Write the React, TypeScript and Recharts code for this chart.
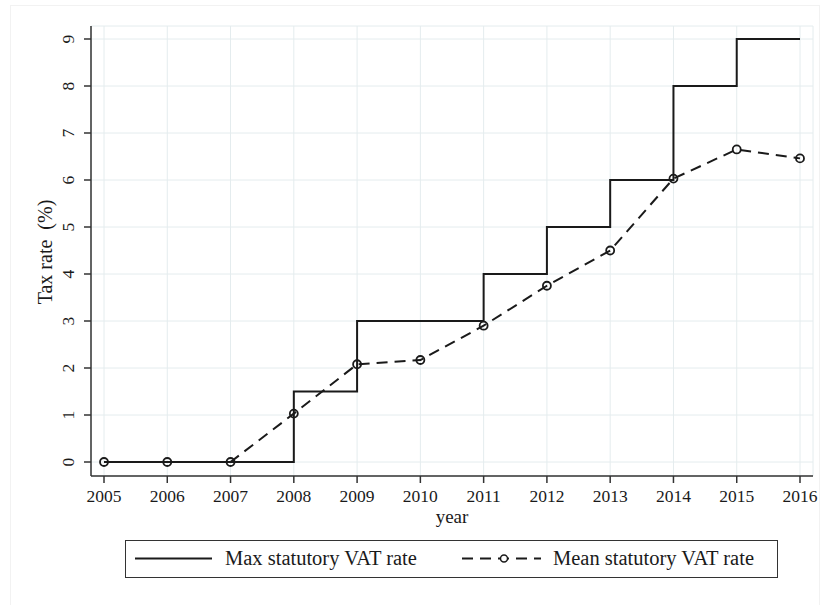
import React from "react";
import {
  LineChart, Line, XAxis, YAxis, CartesianGrid,
} from "recharts";

const years = [2005, 2006, 2007, 2008, 2009, 2010, 2011, 2012, 2013, 2014, 2015, 2016];
const maxRate = [0, 0, 0, 1.5, 3, 3, 4, 5, 6, 8, 9, 9];
const meanRate = [0, 0, 0, 1.03, 2.08, 2.17, 2.9, 3.75, 4.5, 6.03, 6.65, 6.46];
const yTicks = [0, 1, 2, 3, 4, 5, 6, 7, 8, 9];

const data = years.map((year, i) => ({
  year,
  max: maxRate[i],
  mean: meanRate[i],
}));

const FONT = '"Liberation Serif", "Times New Roman", serif';
const INK = "#1a1a1a";

function YTick({ x, y, payload }: any) {
  const cx = x - 14;
  return (
    <text
      x={cx}
      y={y}
      transform={`rotate(-90, ${cx}, ${y})`}
      textAnchor="middle"
      dominantBaseline="central"
      fill={INK}
      fontSize={17.5}
      fontFamily={FONT}
    >
      {payload.value}
    </text>
  );
}

function YLabel({ viewBox }: any) {
  const cx = viewBox.x + 4;
  const cy = viewBox.y + viewBox.height / 2 + 1;
  return (
    <text
      x={cx}
      y={cy}
      transform={`rotate(-90, ${cx}, ${cy})`}
      textAnchor="middle"
      dominantBaseline="central"
      fill={INK}
      fontSize={20}
      fontFamily={FONT}
    >
      {"Tax rate\u00a0 (%)"}
    </text>
  );
}

// legend drawn as a plain box under the chart, like the Stata one
function LegendBox() {
  return (
    <div
      style={{
        position: "absolute",
        left: 125,
        top: 540,
        boxSizing: "border-box",
        width: 653,
        height: 38,
        border: "1.5px solid #333",
        background: "#fff",
        fontFamily: FONT,
        fontSize: 20.5,
        color: INK,
      }}
    >
      <svg width={653} height={38} style={{ position: "absolute", left: -1.5, top: -1.5 }}>
        <line x1={10} x2={87} y1={18.5} y2={18.5} stroke={INK} strokeWidth={2} />
        <line x1={337} x2={416} y1={18.5} y2={18.5} stroke={INK} strokeWidth={2} strokeDasharray="11 7" />
        <circle cx={379} cy={18.5} r={3.5} fill="#fff" stroke={INK} strokeWidth={1.5} />
      </svg>
      <span style={{ position: "absolute", left: 99, top: 5, lineHeight: "24px" }}>
        Max statutory VAT rate
      </span>
      <span style={{ position: "absolute", left: 427, top: 5, lineHeight: "24px" }}>
        Mean statutory VAT rate
      </span>
    </div>
  );
}

export default function App() {
  return (
    <div style={{ position: "absolute", left: 0, top: 0, width: 828, height: 605, background: "#fff", overflow: "hidden" }}>
      <div
        style={{
          position: "absolute",
          left: 10,
          top: 5,
          width: 808,
          height: 610,
          border: "1px solid #f2f2f2",
        }}
      />
      <LineChart
        width={828}
        height={605}
        data={data}
        margin={{ top: 26, right: 15, left: 41, bottom: 99 }}
      >
        <CartesianGrid stroke="#e4ecee" strokeWidth={1} />
        <XAxis
          dataKey="year"
          type="number"
          domain={[2005, 2016]}
          ticks={years}
          interval={0}
          padding={{ left: 13, right: 13 }}
          height={30}
          tickSize={7}
          tickMargin={7}
          stroke="#333"
          strokeWidth={1.5}
          tick={{ fill: INK, fontSize: 17.5, fontFamily: FONT }}
          label={{
            value: "year",
            position: "insideBottom",
            offset: -17,
            fill: INK,
            fontSize: 19,
            fontFamily: FONT,
          }}
        />
        <YAxis
          type="number"
          domain={[0, 9]}
          ticks={yTicks}
          interval={0}
          width={50}
          padding={{ top: 13, bottom: 14 }}
          tickSize={7}
          stroke="#333"
          strokeWidth={1.5}
          tick={<YTick />}
          label={<YLabel />}
        />
        <Line
          type="stepAfter"
          dataKey="max"
          name="Max statutory VAT rate"
          stroke={INK}
          strokeWidth={2}
          dot={false}
          isAnimationActive={false}
        />
        <Line
          type="linear"
          dataKey="mean"
          name="Mean statutory VAT rate"
          stroke={INK}
          strokeWidth={2}
          strokeDasharray="11 7"
          dot={{ r: 4, fill: "none", stroke: INK, strokeWidth: 1.8, strokeDasharray: "0" }}
          isAnimationActive={false}
        />
      </LineChart>
      <LegendBox />
    </div>
  );
}
